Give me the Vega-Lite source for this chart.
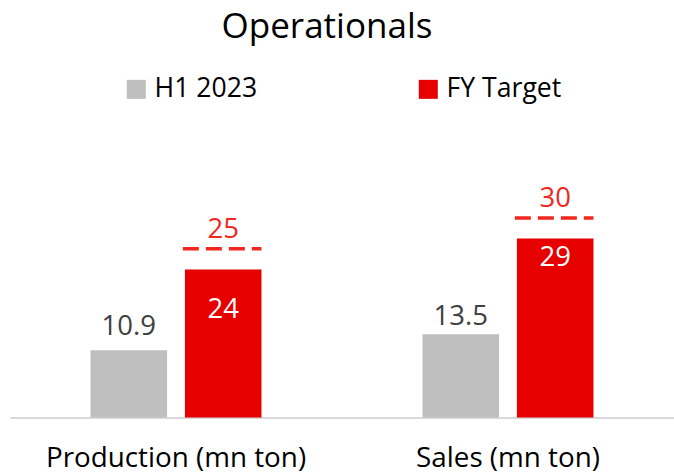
{
  "$schema": "https://vega.github.io/schema/vega-lite/v6.json",
  "width": 664,
  "height": 308.5,
  "autosize": {"type": "none"},
  "padding": {"left": 10, "top": 109, "right": 0, "bottom": 58.5},
  "title": {"text": "Operationals", "fontSize": 35, "font": "Open Sans", "fontWeight": "normal", "color": "#000000", "anchor": "middle", "dx": -15, "offset": 31},
  "config": {"view": {"stroke": null}, "font": "Open Sans"},
  "data": {"values": [
    {"cat": "Production (mn ton)", "series": "H1 2023", "value": 10.9},
    {"cat": "Production (mn ton)", "series": "FY Target", "value": 24, "target": 25},
    {"cat": "Sales (mn ton)", "series": "H1 2023", "value": 13.5},
    {"cat": "Sales (mn ton)", "series": "FY Target", "value": 29, "target": 30}
  ]},
  "encoding": {
    "x": {"field": "cat", "type": "nominal", "sort": ["Production (mn ton)", "Sales (mn ton)"],
      "scale": {"paddingInner": 0.485, "paddingOuter": 0.2425},
      "axis": {"title": null, "labelAngle": 0, "ticks": false, "domainColor": "#d9d9d9", "domainWidth": 2, "labelFontSize": 27.8, "labelFont": "Open Sans", "labelColor": "#000000", "labelPadding": 27, "grid": false, "labelLimit": 400}},
    "y": {"field": "value", "type": "quantitative", "scale": {"domain": [0, 50], "nice": false}, "axis": null}
  },
  "layer": [
    {
      "mark": {"type": "bar"},
      "encoding": {
        "xOffset": {"field": "series", "type": "nominal", "sort": ["H1 2023", "FY Target"], "scale": {"paddingInner": 0.189, "paddingOuter": 0}},
        "color": {"field": "series", "type": "nominal", "sort": ["H1 2023", "FY Target"],
          "scale": {"domain": ["H1 2023", "FY Target"], "range": ["#bfbfbf", "#e60000"]},
          "legend": {"orient": "none", "legendX": 113, "legendY": -33, "direction": "horizontal", "title": null, "symbolType": "square", "symbolSize": 361, "symbolStrokeWidth": 0, "labelFontSize": 26.6, "labelFont": "Open Sans", "labelColor": "#000000", "columnPadding": 157, "labelOffset": 5, "padding": 0}}
      }
    },
    {
      "transform": [{"filter": "datum.series == 'H1 2023' && datum.cat == 'Production (mn ton)'"}],
      "mark": {"type": "text", "dy": -23, "fontSize": 27.5, "font": "Open Sans", "color": "#404040"},
      "encoding": {
        "xOffset": {"field": "series", "type": "nominal", "sort": ["H1 2023", "FY Target"]},
        "text": {"field": "value", "type": "nominal"}}
    },
    {
      "transform": [{"filter": "datum.series == 'H1 2023' && datum.cat == 'Sales (mn ton)'"}],
      "mark": {"type": "text", "dy": -17, "fontSize": 27.5, "font": "Open Sans", "color": "#404040"},
      "encoding": {
        "xOffset": {"field": "series", "type": "nominal", "sort": ["H1 2023", "FY Target"]},
        "text": {"field": "value", "type": "nominal"}}
    },
    {
      "transform": [{"filter": "datum.series == 'FY Target' && datum.cat == 'Production (mn ton)'"}],
      "mark": {"type": "text", "dy": 41, "fontSize": 27.5, "font": "Open Sans", "color": "#ffffff"},
      "encoding": {
        "xOffset": {"field": "series", "type": "nominal", "sort": ["H1 2023", "FY Target"]},
        "text": {"field": "value", "type": "nominal"}}
    },
    {
      "transform": [{"filter": "datum.series == 'FY Target' && datum.cat == 'Sales (mn ton)'"}],
      "mark": {"type": "text", "dy": 19, "fontSize": 27.5, "font": "Open Sans", "color": "#ffffff"},
      "encoding": {
        "xOffset": {"field": "series", "type": "nominal", "sort": ["H1 2023", "FY Target"]},
        "text": {"field": "value", "type": "nominal"}}
    },
    {
      "transform": [{"filter": "datum.target != null"}],
      "mark": {"type": "rule", "strokeDash": [16, 7], "strokeWidth": 3.5, "color": "#f0281e", "yOffset": -14.5},
      "encoding": {
        "x": {"field": "cat", "type": "nominal", "sort": ["Production (mn ton)", "Sales (mn ton)"], "bandPosition": 0.54},
        "x2": {"field": "cat", "bandPosition": 1},
        "y": {"field": "target", "type": "quantitative"}
      }
    },
    {
      "transform": [{"filter": "datum.target != null"}],
      "mark": {"type": "text", "dy": -33.5, "fontSize": 27.5, "font": "Open Sans", "color": "#f0281e"},
      "encoding": {
        "xOffset": {"field": "series", "type": "nominal", "sort": ["H1 2023", "FY Target"]},
        "y": {"field": "target", "type": "quantitative"}, "text": {"field": "target", "type": "nominal"}}
    }
  ]
}
